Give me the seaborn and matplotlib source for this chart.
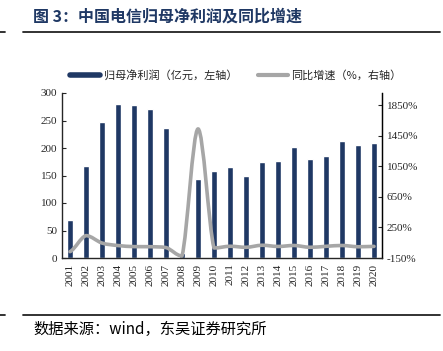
import numpy as np
import pandas as pd
import matplotlib
matplotlib.use("Agg")
import matplotlib.pyplot as plt
from matplotlib.path import Path
from matplotlib.patches import PathPatch
from matplotlib.lines import Line2D
import seaborn as sns

years = [str(y) for y in range(2001, 2021)]
profit = [69, 168, 247, 280, 278, 271, 237, 9, 144, 158,
          165, 149, 175, 176, 201, 180, 186, 212, 205, 209]
growth = [-67, 143, 46, 13, -1, -2, -13, -124, 1540, -19,
          4, -10, 17, 1, 14, -10, 3, 14, -3, 2]

BAR_COLOR = "#1F3864"
LINE_COLOR = "#A6A6A6"
CJK = ["Noto Sans CJK SC", "DejaVu Sans"]
SERIF = "Liberation Serif"

sns.set_style("white")
plt.rcParams["font.family"] = CJK

df = pd.DataFrame({"year": years, "profit": profit, "growth": growth})

fig = plt.figure(figsize=(4.43, 3.51), dpi=100)
ax = fig.add_axes([62 / 443, 1 - 258 / 351, 320 / 443, 165 / 351])

sns.barplot(data=df, x="year", y="profit", color=BAR_COLOR, width=0.33,
            saturation=1, ax=ax)
ax.set_xlim(-0.5, 19.5)
ax.set_ylim(0, 300)
ax.set_yticks(range(0, 301, 50))
ax.set_xlabel("")
ax.set_ylabel("")
ax.set_xticks(range(len(years)))
ax.set_xticklabels(years, rotation=90, fontfamily=SERIF, fontsize=8)
ax.set_xticks(np.arange(0.5, 19, 1), minor=True)
ax.tick_params(axis="x", which="major", length=0, pad=4)
ax.tick_params(axis="x", which="minor", direction="in", length=2.5, width=0.8)
ax.tick_params(axis="y", direction="in", length=3, width=0.8, labelsize=8)
for lab in ax.get_yticklabels():
    lab.set_fontfamily(SERIF)

for s in ["left", "bottom", "right"]:
    ax.spines[s].set_color("black")
    ax.spines[s].set_linewidth(0.9)
ax.spines["top"].set_visible(False)

# growth line, smoothed like the original (Bezier through the data points,
# control points kept inside each segment so the curve does not overshoot)
ax2 = ax.twinx()
ax2.set_ylim(-150, 2010)
ax2.set_yticks(range(-150, 1851, 400))
ax2.set_yticklabels([f"{v}%" for v in range(-150, 1851, 400)],
                    fontfamily=SERIF, fontsize=8)
ax2.tick_params(axis="y", direction="in", length=3, width=0.8)
ax2.spines["top"].set_visible(False)
ax2.spines["right"].set_linewidth(0.9)
ax2.spines["right"].set_color("black")

xs = np.arange(len(growth), dtype=float)
ys = np.array(growth, dtype=float)
verts = [(xs[0], ys[0])]
codes = [Path.MOVETO]
n = len(xs)
for i in range(n - 1):
    y0 = ys[i - 1] if i > 0 else ys[i]
    y3 = ys[i + 2] if i + 2 < n else ys[i + 1]
    lo, hi = min(ys[i], ys[i + 1]), max(ys[i], ys[i + 1])
    c1y = np.clip(ys[i] + (ys[i + 1] - y0) / 6, lo, hi)
    c2y = np.clip(ys[i + 1] - (y3 - ys[i]) / 6, lo, hi)
    verts += [(xs[i] + 1 / 3, c1y), (xs[i + 1] - 1 / 3, c2y),
              (xs[i + 1], ys[i + 1])]
    codes += [Path.CURVE4] * 3
ax2.add_patch(PathPatch(Path(verts, codes), facecolor="none",
                        edgecolor=LINE_COLOR, linewidth=2.6,
                        capstyle="round", joinstyle="round"))

# legend
handles = [Line2D([], [], color=BAR_COLOR, linewidth=4),
           Line2D([], [], color=LINE_COLOR, linewidth=3)]
fig.legend(handles, ["归母净利润（亿元，左轴）", "同比增速（%，右轴）"],
           loc="center", bbox_to_anchor=(236 / 443, 1 - 75 / 351), ncol=2,
           frameon=False, fontsize=8, handlelength=2.7, columnspacing=1.8,
           handletextpad=0.35)

# title, rules and footer
fig.text(33 / 443, 1 - 17 / 351, "图 3：中国电信归母净利润及同比增速",
         fontsize=11.5, fontweight="bold", color=BAR_COLOR, va="center")
for yy in [32, 315]:
    fig.add_artist(Line2D([23 / 443, 440 / 443], [1 - yy / 351] * 2,
                          color="#222222", linewidth=1.3))
    fig.add_artist(Line2D([0, 5 / 443], [1 - yy / 351] * 2,
                          color="#222222", linewidth=1.3))
fig.text(33 / 443, 1 - 329 / 351, "数据来源：wind，东吴证券研究所",
         fontsize=11, color="black", va="center")

fig.savefig("out.png", dpi=100)
